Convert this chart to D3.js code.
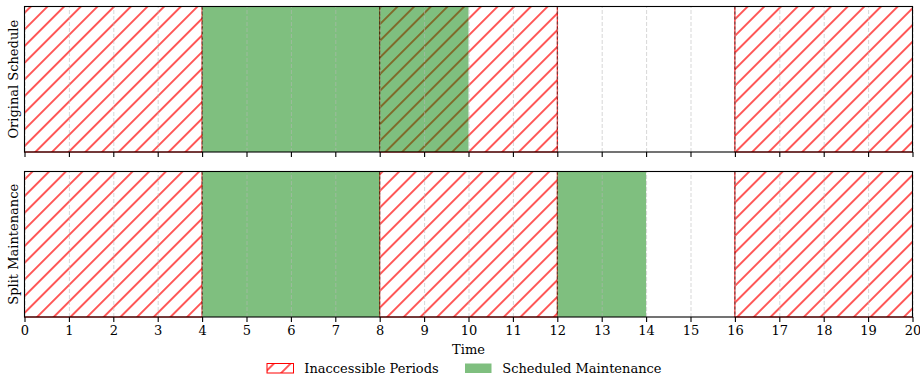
<!DOCTYPE html>
<html>
<head>
<meta charset="utf-8">
<script src="https://cdn.jsdelivr.net/npm/d3@7"></script>
<style>
  html, body { margin: 0; padding: 0; background: #fff; }
  svg { display: block; }
  text { font-family: "DejaVu Serif", serif; fill: #000; }
</style>
</head>
<body>
<svg id="chart" width="920" height="379"></svg>
<script>
// ---- data ----
const panelNames = ["Original Schedule", "Split Maintenance"];
const inaccessibleStart = [0, 8, 16];
const inaccessibleEnd = [4, 12, 20];
const originalMaintStart = [4];
const originalMaintEnd = [10];
const splitMaintStart = [4, 12];
const splitMaintEnd = [8, 14];
const boundaryTimes = [4, 8, 12, 16];
const xTickLabels = [0,1,2,3,4,5,6,7,8,9,10,11,12,13,14,15,16,17,18,19,20];
const legendLabels = ["Inaccessible Periods", "Scheduled Maintenance"];
const xDomain = [0, 20];

const maintStarts = [originalMaintStart, splitMaintStart];
const maintEnds = [originalMaintEnd, splitMaintEnd];

// ---- layout ----
const svg = d3.select("#chart");
const left = 24.5, right = 912.5;
const panelTops = [6.5, 171.5];
const panelH = 145.5;
const fs = "13px";
const x = d3.scaleLinear().domain(xDomain).range([left, right]);
const green = "rgba(0,128,0,0.5)";

const defs = svg.append("defs");
const hatchSpacing = 16.67;
const pw = hatchSpacing / Math.SQRT2;
const pat = defs.append("pattern")
  .attr("id", "hatch")
  .attr("patternUnits", "userSpaceOnUse")
  .attr("width", pw)
  .attr("height", 20)
  .attr("patternTransform", "translate(4,0) rotate(45)");
pat.append("rect").attr("width", pw).attr("height", 20).attr("fill", "#fff");
[0, pw].forEach(px => {
  pat.append("line").attr("x1", px).attr("x2", px).attr("y1", -1).attr("y2", 21)
    .attr("stroke", "#ff0000").attr("stroke-width", 1.3);
});

panelNames.forEach((name, i) => {
  const top = panelTops[i];
  const y = d3.scaleLinear().domain([0, 1]).range([top + panelH, top]);
  const g = svg.append("g");

  // inaccessible hatched spans
  g.selectAll("rect.inacc").data(inaccessibleStart.map((s, k) => [s, inaccessibleEnd[k]]))
    .enter().append("rect")
    .attr("x", d => x(d[0])).attr("width", d => x(d[1]) - x(d[0]))
    .attr("y", y(1)).attr("height", y(0) - y(1))
    .attr("fill", "url(#hatch)")
    .attr("stroke", "red").attr("stroke-width", 1);

  // maintenance spans
  g.selectAll("rect.maint").data(maintStarts[i].map((s, k) => [s, maintEnds[i][k]]))
    .enter().append("rect")
    .attr("x", d => x(d[0])).attr("width", d => x(d[1]) - x(d[0]))
    .attr("y", y(1)).attr("height", y(0) - y(1))
    .attr("fill", green);

  // grid
  const xAxisGrid = d3.axisBottom(x).tickValues(xTickLabels)
    .tickSize(-(panelH)).tickFormat("");
  const grid = g.append("g").attr("transform", `translate(0,${y(0)})`).call(xAxisGrid);
  grid.select(".domain").remove();
  grid.selectAll(".tick line")
    .attr("stroke", "#b8b8b8").attr("stroke-opacity", 0.7)
    .attr("stroke-width", 0.8).attr("stroke-dasharray", "4,2");

  // boundary lines
  g.selectAll("line.bnd").data(boundaryTimes).enter().append("line")
    .attr("x1", d => x(d)).attr("x2", d => x(d))
    .attr("y1", y(1)).attr("y2", y(0))
    .attr("stroke", "#000").attr("stroke-opacity", 0.55)
    .attr("stroke-width", 1).attr("stroke-dasharray", "3,2");

  // frame
  g.append("rect").attr("x", left).attr("y", y(1))
    .attr("width", right - left).attr("height", y(0) - y(1))
    .attr("fill", "none").attr("stroke", "#000").attr("stroke-width", 1.1);

  // x axis ticks
  const ax = d3.axisBottom(x).tickValues(xTickLabels).tickSize(5).tickPadding(4)
    .tickFormat(i === 1 ? d3.format("d") : "");
  const axg = g.append("g").attr("transform", `translate(0,${y(0)})`).call(ax);
  axg.select(".domain").remove();
  axg.selectAll(".tick line").attr("stroke", "#000").attr("stroke-width", 1.1);
  axg.selectAll(".tick text")
    .style("font-family", "'DejaVu Serif', serif").style("font-size", fs).attr("fill", "#000");

  // y label
  const cy = (y(0) + y(1)) / 2;
  g.append("text")
    .attr("transform", `translate(18,${cy}) rotate(-90)`)
    .attr("text-anchor", "middle")
    .style("font-size", fs)
    .text(name);
});

// x label
svg.append("text").attr("x", (left + right) / 2).attr("y", 353.5)
  .attr("text-anchor", "middle").style("font-size", fs).text("Time");

// legend
const lg = svg.append("g");
lg.append("rect").attr("x", 267).attr("y", 363.5).attr("width", 26.5).attr("height", 9.5)
  .attr("fill", "url(#hatch)").attr("stroke", "red").attr("stroke-width", 1);
lg.append("text").attr("x", 304.3).attr("y", 373.3).style("font-size", fs).text(legendLabels[0]);
lg.append("rect").attr("x", 465).attr("y", 363.5).attr("width", 26.5).attr("height", 9.5)
  .attr("fill", green);
lg.append("text").attr("x", 502.3).attr("y", 373.3).style("font-size", fs).text(legendLabels[1]);
</script>
</body>
</html>
